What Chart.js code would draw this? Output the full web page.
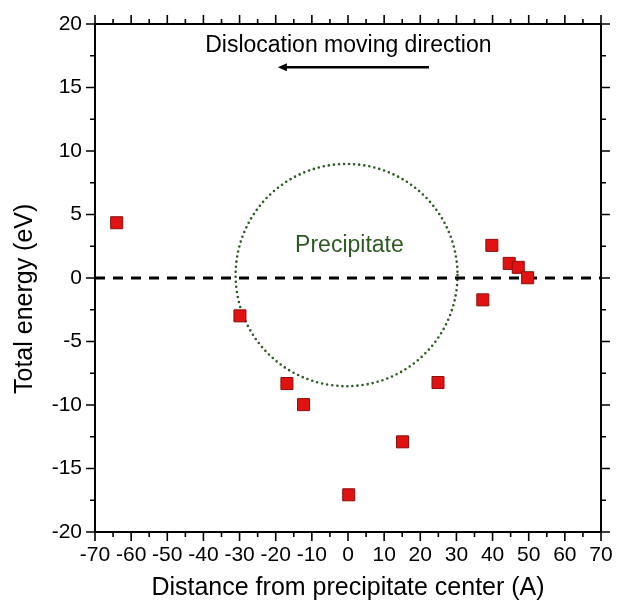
<!DOCTYPE html>
<html>
<head>
<meta charset="utf-8">
<script src="https://cdn.jsdelivr.net/npm/chart.js@4.4.0/dist/chart.umd.min.js"></script>
<style>
  html, body { margin: 0; padding: 0; background: #fff; }
  #wrap { width: 617px; height: 607px; }
</style>
</head>
<body>
<div id="wrap"><canvas id="graficoEnergia"></canvas></div>
<script>
// distance from precipitate center (A) vs total energy (eV)
const distance = [-64.0, -29.9, -16.9, -12.3, 0.2, 15.1, 24.9, 37.3, 39.8, 44.6, 47.1, 49.7];
const energy = [4.35, -2.98, -8.31, -9.97, -17.07, -12.9, -8.23, -1.72, 2.57, 1.15, 0.84, 0.02];

const xTicks = [-70, -60, -50, -40, -30, -20, -10, 0, 10, 20, 30, 40, 50, 60, 70];
const yTicks = [-20, -15, -10, -5, 0, 5, 10, 15, 20];

const zeroLineX = [-70, 70];
const zeroLineY = [0, 0];

// precipitate outline, in data units
const precipitateCenter = [-0.4, 0.23];
const precipitateRadius = [30.7, 8.75];
const precipitateLabel = "Precipitate";
const precipitateLabelAt = [0.4, 2.54];

// moving direction arrow
const arrowFrom = [22.4, 16.6];
const arrowTo = [-19.4, 16.6];
const arrowLabel = "Dislocation moving direction";
const arrowLabelAt = [0.1, 18.3];

const FONT = '"Liberation Sans", Arial, sans-serif';
Chart.defaults.font.family = FONT;
Chart.defaults.color = "#000";

const midpoints = arr => arr.slice(1).map((v, i) => (v + arr[i]) / 2);

const precipitatePlugin = {
  id: "precipitate",
  beforeDatasetsDraw(chart) {
    const { ctx, scales: { x, y } } = chart;
    const cx = x.getPixelForValue(precipitateCenter[0]);
    const cy = y.getPixelForValue(precipitateCenter[1]);
    const rx = Math.abs(x.getPixelForValue(precipitateCenter[0] + precipitateRadius[0]) - cx);
    const ry = Math.abs(y.getPixelForValue(precipitateCenter[1] + precipitateRadius[1]) - cy);
    ctx.save();
    ctx.strokeStyle = "#2d5a22";
    ctx.lineWidth = 2.6;
    ctx.lineCap = "round";
    ctx.setLineDash([0, 5.1]);
    ctx.beginPath();
    ctx.ellipse(cx, cy, rx, ry, 0, 0, Math.PI * 2);
    ctx.stroke();
    ctx.setLineDash([]);
    ctx.fillStyle = "#2d5a22";
    ctx.font = "23px " + FONT;
    ctx.textAlign = "center";
    ctx.textBaseline = "middle";
    ctx.fillText(precipitateLabel, x.getPixelForValue(precipitateLabelAt[0]), y.getPixelForValue(precipitateLabelAt[1]));
    ctx.restore();
  }
};

const framePlugin = {
  id: "frame",
  afterDraw(chart) {
    const { ctx, chartArea: a, scales: { x, y } } = chart;
    ctx.save();
    ctx.strokeStyle = "#000";
    ctx.lineWidth = 2;
    ctx.strokeRect(a.left, a.top, a.right - a.left, a.bottom - a.top);

    ctx.lineWidth = 1.6;
    ctx.beginPath();
    const tickX = (v, len) => {
      const px = x.getPixelForValue(v);
      ctx.moveTo(px, a.bottom); ctx.lineTo(px, a.bottom + len);
      ctx.moveTo(px, a.top); ctx.lineTo(px, a.top - len);
    };
    const tickY = (v, len) => {
      const py = y.getPixelForValue(v);
      ctx.moveTo(a.left, py); ctx.lineTo(a.left - len, py);
      ctx.moveTo(a.right, py); ctx.lineTo(a.right + len, py);
    };
    xTicks.forEach(v => tickX(v, 9));
    midpoints(xTicks).forEach(v => tickX(v, 5));
    yTicks.forEach(v => tickY(v, 9));
    midpoints(yTicks).forEach(v => tickY(v, 5));
    ctx.stroke();

    // arrow
    const x1 = x.getPixelForValue(arrowFrom[0]), y1 = y.getPixelForValue(arrowFrom[1]);
    const x2 = x.getPixelForValue(arrowTo[0]), y2 = y.getPixelForValue(arrowTo[1]);
    ctx.lineWidth = 2.6;
    ctx.beginPath();
    ctx.moveTo(x1, y1);
    ctx.lineTo(x2 + 6, y2);
    ctx.stroke();
    ctx.fillStyle = "#000";
    ctx.beginPath();
    ctx.moveTo(x2, y2);
    ctx.lineTo(x2 + 9, y2 - 4);
    ctx.lineTo(x2 + 9, y2 + 4);
    ctx.closePath();
    ctx.fill();

    ctx.font = "23px " + FONT;
    ctx.textAlign = "center";
    ctx.textBaseline = "middle";
    ctx.fillText(arrowLabel, x.getPixelForValue(arrowLabelAt[0]), y.getPixelForValue(arrowLabelAt[1]));
    ctx.restore();
  }
};

new Chart(document.getElementById("graficoEnergia"), {
  type: "scatter",
  data: {
    datasets: [
      {
        label: "Total energy",
        data: distance.map((d, i) => ({ x: d, y: energy[i] })),
        pointStyle: "rect",
        pointRadius: 8.5,
        pointHoverRadius: 8.5,
        backgroundColor: "#e01212",
        borderColor: "#8e0d0d",
        borderWidth: 1
      },
      {
        label: "zero",
        data: zeroLineX.map((d, i) => ({ x: d, y: zeroLineY[i] })),
        showLine: true,
        pointRadius: 0,
        borderColor: "#000",
        borderWidth: 3,
        borderDash: [10, 8]
      }
    ]
  },
  options: {
    responsive: true,
    maintainAspectRatio: false,
    animation: false,
    layout: { padding: { top: 24, right: 16, left: 0, bottom: 0 } },
    plugins: {
      legend: { display: false },
      tooltip: { enabled: false }
    },
    scales: {
      x: {
        type: "linear",
        min: -70,
        max: 70,
        afterBuildTicks: s => { s.ticks = xTicks.map(v => ({ value: v })); },
        afterFit: s => { s.height = 75; s.paddingLeft = 0; s.paddingRight = 0; },
        grid: { display: false, drawTicks: false },
        border: { display: false },
        ticks: { font: { size: 21 }, color: "#000", padding: 11, maxRotation: 0, autoSkip: false },
        title: {
          display: true,
          text: "Distance from precipitate center (A)",
          font: { size: 25 },
          color: "#000",
          padding: { top: 0, bottom: 4 }
        }
      },
      y: {
        type: "linear",
        min: -20,
        max: 20,
        afterBuildTicks: s => { s.ticks = yTicks.map(v => ({ value: v })); },
        afterFit: s => { s.width = 95; s.paddingTop = 0; s.paddingBottom = 0; },
        grid: { display: false, drawTicks: false },
        border: { display: false },
        ticks: { font: { size: 21 }, color: "#000", padding: 13 },
        title: {
          display: true,
          text: "Total energy (eV)      ",
          font: { size: 25 },
          color: "#000",
          padding: { top: 10, bottom: 0 }
        }
      }
    }
  },
  plugins: [precipitatePlugin, framePlugin]
});
</script>
</body>
</html>
